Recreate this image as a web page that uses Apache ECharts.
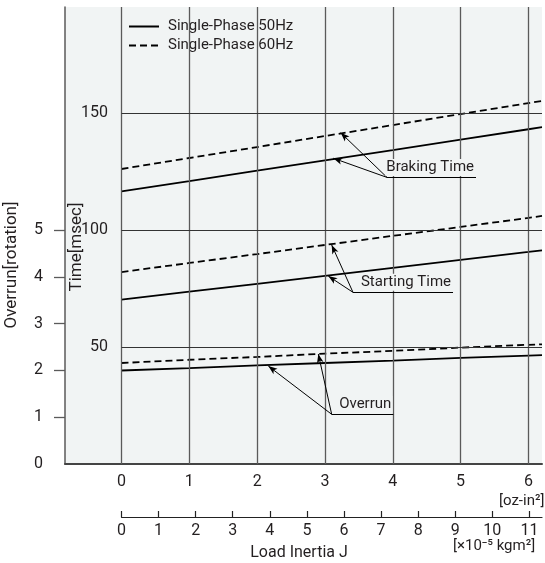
<!DOCTYPE html>
<html><head><meta charset="utf-8">
<script src="https://cdn.jsdelivr.net/npm/echarts@6/dist/echarts.min.js"></script>
<style>html,body{margin:0;padding:0;background:#fff}#c{width:545px;height:563px}</style>
</head><body><div id="c"></div>
<script>
// ---- data ----
const inertiaOz   = [0, 1, 2, 3, 4, 5, 6, 6.2];           // oz-in^2
const braking50   = [116.6, 121.0, 125.5, 129.9, 134.3, 138.8, 143.2, 144.1]; // msec
const braking60   = [126.2, 130.9, 135.6, 140.3, 145.0, 149.7, 154.4, 155.3];
const starting50  = [70.3, 73.7, 77.1, 80.5, 83.9, 87.3, 90.7, 91.4];
const starting60  = [82.1, 86.0, 89.8, 93.7, 97.6, 101.4, 105.3, 106.1];
const overrun50   = [2.00, 2.05, 2.11, 2.16, 2.21, 2.27, 2.32, 2.33];  // rotation
const overrun60   = [2.16, 2.23, 2.29, 2.36, 2.42, 2.49, 2.55, 2.56];
const ozTicks      = [0, 1, 2, 3, 4, 5, 6];
const timeGrid     = [50, 100, 150];
const overrunLabels = [0, 1, 2, 3, 4, 5];
const overrunTicks  = [1, 2, 3, 4, 5];
const OZ_TO_KG = 1.829;   // 1 oz-in^2 = 1.829e-5 kgm^2
const legendNames = ['Single-Phase 50Hz', 'Single-Phase 60Hz'];
const annotations = [
  { text: 'Braking Time',  under: [3.915, 5.227, 122.6], targets: [[3.232, 141.7], [3.123, 130.8]] },
  { text: 'Starting Time', under: [3.413, 4.888, 73.45], targets: [[3.099, 93.7], [3.049, 80.4]] },
  { text: 'Overrun',       under: [3.099, 4.008, 21.26], targets: [[2.165, 41.9], [2.902, 47.06]] }
];

// ---- layout ----
const FONT = "'Liberation Sans Narrow', 'Roboto', sans-serif";
const TXT = '#231f20';
const BG = '#f1f4f4';
const GRIDC = '#5a5a5a';
const XMIN = -0.833, XMAX = 6.2;
const TMAX = 195.5;
const G_LEFT = 65, G_RIGHT = 3, G_W = 545 - G_LEFT - G_RIGHT;
const X0PX = G_LEFT + G_W * (0 - XMIN) / (XMAX - XMIN);

const pairs = ys => inertiaOz.map((x, i) => [x, ys[i]]);

const chart = echarts.init(document.getElementById('c'), null, { renderer: 'canvas' });

function lineSeries(name, ys, dashed, yIdx) {
  return {
    type: 'line', name, xAxisIndex: 0, yAxisIndex: yIdx, color: '#000',
    data: pairs(ys), symbol: 'none', showSymbol: false, silent: true, z: 3,
    itemStyle: { color: '#000' },
    lineStyle: { color: '#000', width: 1.8, type: dashed ? [7, 4] : 'solid' }
  };
}

const SOLID = (c, w) => ({ color: c, width: w, type: 'solid' });
const markLines = [];
ozTicks.forEach(v => markLines.push({ xAxis: v, lineStyle: SOLID(GRIDC, 1.3) }));
timeGrid.forEach(v => markLines.push([{ coord: [0, v], lineStyle: SOLID('#333', 1.2) }, { coord: [XMAX, v] }]));
annotations.forEach(a => {
  markLines.push([{ coord: [a.under[0], a.under[2]], lineStyle: SOLID('#000', 1) }, { coord: [a.under[1], a.under[2]] }]);
  a.targets.forEach(t => markLines.push([
    { coord: [a.under[0], a.under[2]], symbol: 'none', lineStyle: SOLID('#000', 1) },
    { coord: t, symbol: 'arrow', symbolSize: [5, 9] }
  ]));
});

const option = {
  animation: false,
  backgroundColor: '#fff',
  color: ['#000'],
  textStyle: { fontFamily: FONT, color: TXT },
  grid: [
    { left: G_LEFT, right: G_RIGHT, top: 7, bottom: 99, show: true, backgroundColor: BG, borderWidth: 0 },
    { left: X0PX, right: G_RIGHT, bottom: 46, height: 1 }
  ],
  legend: {
    data: legendNames.map(n => ({ name: n })),
    orient: 'vertical', left: 123, top: 13,
    backgroundColor: BG, padding: [6, 10, 6, 5],
    itemWidth: 30, itemHeight: 14, itemGap: 4,
    itemStyle: { opacity: 0 },
    textStyle: { fontFamily: FONT, fontSize: 15, color: TXT, padding: [0, 0, 0, 4] },
    selectedMode: false
  },
  xAxis: [
    {
      type: 'value', gridIndex: 0, min: XMIN, max: XMAX,
      axisLine: { show: true, onZero: false, lineStyle: { color: '#444', width: 2 } },
      axisTick: { show: false },
      splitLine: { show: false },
      axisLabel: { customValues: ozTicks, fontFamily: FONT, fontSize: 16, color: TXT, margin: 10 }
    },
    {
      type: 'value', gridIndex: 1, min: 0, max: XMAX * OZ_TO_KG, interval: 1,
      axisLine: { show: true, onZero: false, lineStyle: { color: '#222', width: 1.2 } },
      axisTick: { show: true, inside: true, length: 6, lineStyle: { color: '#222', width: 1.2 } },
      splitLine: { show: false },
      axisLabel: { showMaxLabel: false, fontFamily: FONT, fontSize: 16, color: TXT, margin: 6 }
    }
  ],
  yAxis: [
    {
      type: 'value', gridIndex: 0, min: 0, max: TMAX, interval: 50, position: 'left', offset: -44,
      axisLine: { show: false }, axisTick: { show: false }, splitLine: { show: false },
      axisLabel: { showMinLabel: false, showMaxLabel: false, fontFamily: FONT, fontSize: 16, color: TXT, margin: 1 }
    },
    {
      type: 'value', gridIndex: 0, min: 0, max: TMAX / 20, position: 'left', offset: 0,
      axisLine: { show: true, onZero: false, lineStyle: { color: GRIDC, width: 1.5 } },
      axisTick: { show: true, customValues: overrunTicks, length: 11, lineStyle: { color: GRIDC, width: 1.3 } },
      splitLine: { show: false },
      axisLabel: { customValues: overrunLabels, fontFamily: FONT, fontSize: 16, color: TXT, margin: 22 }
    },
    { type: 'value', gridIndex: 1, show: false, min: 0, max: 1 }
  ],
  series: [
    {
      type: 'line', name: 'grid', xAxisIndex: 0, yAxisIndex: 0, data: [], silent: true, z: 2,
      markLine: { silent: true, symbol: 'none', label: { show: false }, animation: false,
                  lineStyle: { type: 'solid' }, data: markLines }
    },
    lineSeries(legendNames[0], braking50, false, 0),
    lineSeries(legendNames[1], braking60, true, 0),
    lineSeries(legendNames[0], starting50, false, 0),
    lineSeries(legendNames[1], starting60, true, 0),
    lineSeries(legendNames[0], overrun50, false, 1),
    lineSeries(legendNames[1], overrun60, true, 1)
  ]
};
chart.setOption(option);

// texts placed from data coordinates
const graphics = [];
annotations.forEach(a => {
  const p = chart.convertToPixel({ xAxisIndex: 0, yAxisIndex: 0 }, [a.under[1], a.under[2]]);
  graphics.push({
    type: 'text', z: 10, x: p[0] - 1, y: p[1] - 10,
    style: { text: a.text, font: '15px ' + FONT, fill: TXT, align: 'right', verticalAlign: 'middle',
             backgroundColor: BG, padding: [1, 1] }
  });
});
graphics.push(
  { type: 'text', z: 10, x: 77, y: 247, rotation: Math.PI / 2,
    style: { text: 'Time[msec]', font: '17px ' + FONT, fill: TXT, align: 'center', verticalAlign: 'middle' } },
  { type: 'text', z: 10, x: 12, y: 265, rotation: Math.PI / 2,
    style: { text: 'Overrun[rotation]', font: '17px ' + FONT, fill: TXT, align: 'center', verticalAlign: 'middle' } },
  { type: 'text', z: 10, x: 499, y: 501, style: { text: '[oz-in²]', font: '15px ' + FONT, fill: TXT, align: 'left', verticalAlign: 'middle' } },
  { type: 'text', z: 10, x: 453, y: 546, style: { text: '[×10⁻⁵ kgm²]', font: '15px ' + FONT, fill: TXT, align: 'left', verticalAlign: 'middle' } },
  { type: 'text', z: 10, x: 299, y: 553, style: { text: 'Load Inertia J', font: '16px ' + FONT, fill: TXT, align: 'center', verticalAlign: 'middle' } }
);
chart.setOption({ graphic: graphics });
</script>
</body></html>
